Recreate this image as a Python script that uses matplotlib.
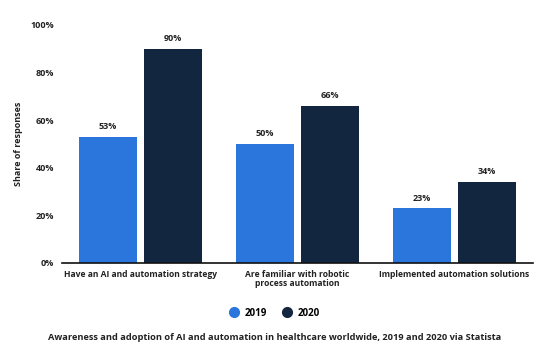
import matplotlib.pyplot as plt
import numpy as np

plt.rcParams['font.family'] = ['Open Sans', 'DejaVu Sans']

categories = ['Have an AI and automation strategy',
              'Are familiar with robotic\nprocess automation',
              'Implemented automation solutions']
vals_2019 = [53, 50, 23]
vals_2020 = [90, 66, 34]
yticks = [0, 20, 40, 60, 80, 100]

c2019 = '#2A76DD'
c2020 = '#13263F'
txt = '#222222'

fig = plt.figure(figsize=(5.5, 3.5), dpi=100)
ax = fig.add_axes([0.113, 0.249, 0.856, 0.68])

x = np.arange(len(categories))
w = 0.369
off = (w + 0.045) / 2
b1 = ax.bar(x - off, vals_2019, w, color=c2019, label='2019')
b2 = ax.bar(x + off, vals_2020, w, color=c2020, label='2020')

for bars in (b1, b2):
    for b in bars:
        ax.text(b.get_x() + b.get_width() / 2, b.get_height() + 2.3,
                '%d%%' % b.get_height(), ha='center', va='bottom',
                fontsize=6.5, fontweight='bold', color=txt)

ax.set_xlim(-0.5, 2.5)
ax.set_ylim(0, 100)
ax.set_yticks(yticks)
ax.set_yticklabels(['%d%%' % v for v in yticks], fontsize=6.5, fontweight='bold', color=txt)
ax.set_xticks(x)
ax.set_xticklabels(categories, fontsize=6.1, fontweight='bold', color=txt, linespacing=1.1)
ax.tick_params(length=0, pad=5)
ax.tick_params(axis='y', pad=6)
for s in ['top', 'right', 'left']:
    ax.spines[s].set_visible(False)
ax.spines['bottom'].set_linewidth(1.2)
ax.spines['bottom'].set_color('#111111')
ax.set_ylabel('Share of responses', fontsize=6.5, fontweight='bold', color=txt, labelpad=5)

handles = [plt.Line2D([], [], marker='o', ls='', color=c, markersize=7) for c in (c2019, c2020)]
fig.legend(handles, ['2019', '2020'], loc='center', bbox_to_anchor=(0.495, 0.105), ncol=2,
           frameon=False, prop={'size': 7.0, 'weight': 'bold'}, handletextpad=0.1,
           columnspacing=1.0)

fig.text(0.5, 0.037, 'Awareness and adoption of AI and automation in healthcare worldwide, 2019 and 2020 via Statista',
         ha='center', va='center', fontsize=6.7, fontweight='bold', color=txt)

fig.savefig('out.png', dpi=100, facecolor='white')
